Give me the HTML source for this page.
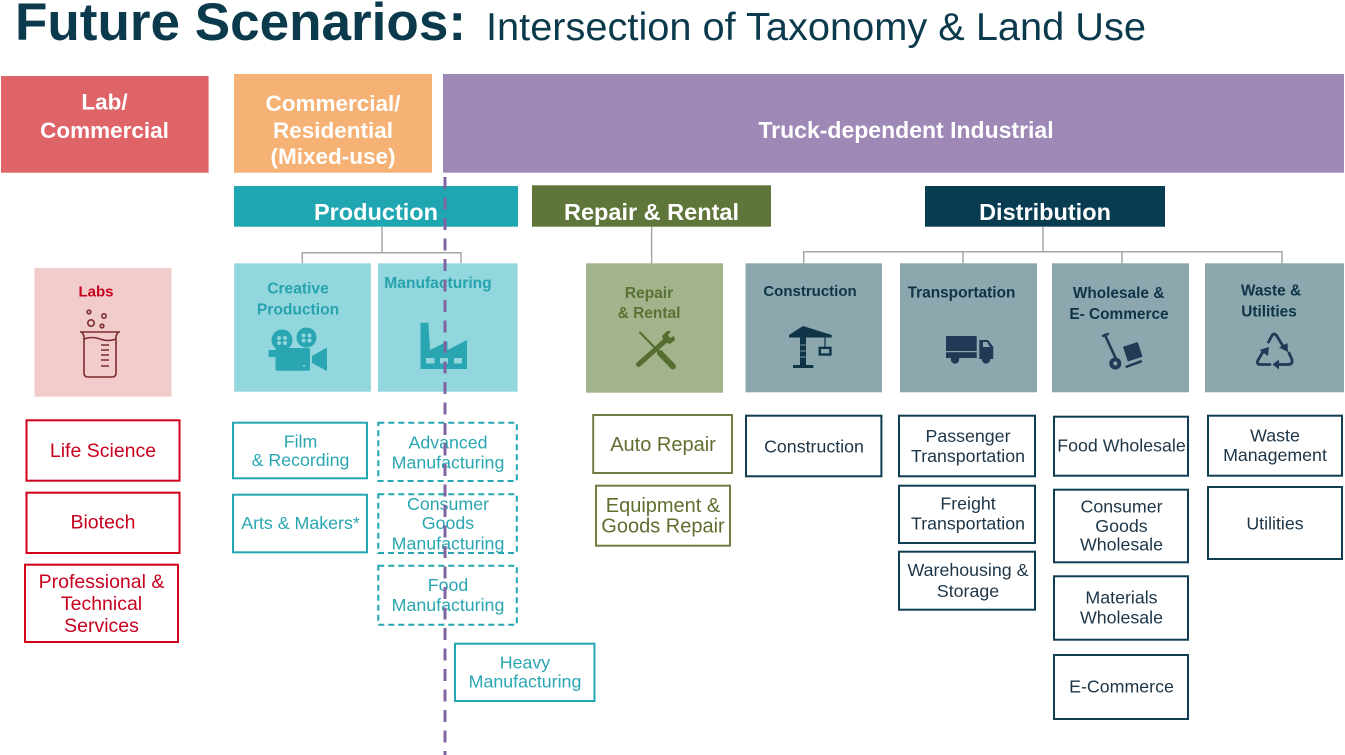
<!DOCTYPE html>
<html>
<head>
<meta charset="utf-8">
<style>
html,body{margin:0;padding:0;background:#fff;}
svg{display:block;}
text{font-family:"Liberation Sans",Arial,sans-serif;}
</style>
</head>
<body>
<svg width="1345" height="755" viewBox="0 0 1345 755" xmlns="http://www.w3.org/2000/svg">
  <!-- Title -->
  <text x="15" y="40" font-size="53" font-weight="bold" fill="#0b3a4c" textLength="451" lengthAdjust="spacingAndGlyphs">Future Scenarios:</text>
  <text x="486" y="40" font-size="39" fill="#0b3a4c" textLength="660" lengthAdjust="spacingAndGlyphs">Intersection of Taxonomy &amp; Land Use</text>

  <!-- Top land-use boxes -->
  <rect x="1" y="76" width="207.6" height="96.7" fill="#df6468"/>
  <rect x="234" y="74" width="198" height="98.7" fill="#f5b274"/>
  <rect x="443" y="74" width="901" height="98.7" fill="#9e88b6"/>
  <g font-weight="bold" fill="#fff" text-anchor="middle" font-size="22.5">
    <text x="104.5" y="109.5">Lab/</text>
    <text x="104.5" y="138">Commercial</text>
    <text x="333" y="111">Commercial/</text>
    <text x="333" y="138">Residential</text>
    <text x="333" y="164">(Mixed-use)</text>
    <text x="906" y="138" font-size="23">Truck-dependent Industrial</text>
  </g>

  <!-- Category bars -->
  <rect x="234" y="186" width="284" height="40.7" fill="#1fa6b1"/>
  <rect x="532" y="185.3" width="239" height="41.4" fill="#5f763a"/>
  <rect x="925" y="186" width="240" height="40.7" fill="#073c51"/>
  <g font-weight="bold" fill="#fff" text-anchor="middle" font-size="23.5">
    <text x="376" y="220">Production</text>
    <text x="651.5" y="220">Repair &amp; Rental</text>
    <text x="1045" y="220">Distribution</text>
  </g>

  <!-- Connectors -->
  <g stroke="#a6a6a6" stroke-width="1.5" fill="none">
    <path d="M382 226.7 V252.7 M302.3 263.3 V252.7 H461 V263.3"/>
    <path d="M651.6 226.7 V263.3"/>
    <path d="M1043 226.7 V251.7 M803.7 263.3 V251.7 H1282 V263.3 M963 251.7 V263.3 M1122 251.7 V263.3"/>
  </g>

  <!-- Sub boxes -->
  <rect x="34.4" y="268" width="137.1" height="128.7" fill="#f2cccb"/>
  <rect x="234.2" y="263.3" width="136.7" height="128.4" fill="#92d7de"/>
  <rect x="378" y="263.3" width="139.6" height="128.4" fill="#92d7de"/>
  <rect x="586" y="263.3" width="137" height="129.4" fill="#a3b38b"/>
  <rect x="745.5" y="263.3" width="136.5" height="129" fill="#8ca7ae"/>
  <rect x="900" y="263.3" width="137" height="129" fill="#8ca7ae"/>
  <rect x="1052" y="263.3" width="137" height="129" fill="#8ca7ae"/>
  <rect x="1205" y="263.3" width="139" height="129" fill="#8ca7ae"/>

  <!-- Sub box titles -->
  <g font-weight="bold" text-anchor="middle">
    <text x="96" y="296.7" font-size="15" fill="#c8001e">Labs</text>
    <text x="298" y="293.5" font-size="15.6" fill="#27a3ae">Creative</text>
    <text x="298" y="314.5" font-size="15.6" fill="#27a3ae">Production</text>
    <text x="438" y="288" font-size="15.6" fill="#27a3ae">Manufacturing</text>
    <text x="649" y="298" font-size="15.5" fill="#5a7233">Repair</text>
    <text x="649" y="318" font-size="15.5" fill="#5a7233">&amp; Rental</text>
    <text x="810" y="296" font-size="15" fill="#0f3347">Construction</text>
    <text x="961.5" y="297.3" font-size="15.4" fill="#0f3347">Transportation</text>
    <text x="1118.6" y="298" font-size="15.4" fill="#0f3347">Wholesale &amp;</text>
    <text x="1119" y="319" font-size="15.4" fill="#0f3347">E- Commerce</text>
    <text x="1271" y="295.6" font-size="15.4" fill="#0f3347">Waste &amp;</text>
    <text x="1269" y="316.3" font-size="15.4" fill="#0f3347">Utilities</text>
  </g>

  <!-- Icons -->
  <!-- Beaker -->
  <g stroke="#7c2d2d" stroke-width="1.6" fill="none">
    <circle cx="89" cy="312" r="1.8"/>
    <circle cx="104" cy="316" r="2.2"/>
    <circle cx="91" cy="323" r="3.2"/>
    <circle cx="102" cy="326" r="1.8"/>
    <path d="M80 332 H120 M82 332 L84 336 V373 Q84 377 88 377 H112 Q116 377 116 373 V336 L118 332"/>
    <path d="M84 339 Q92 336 100 339 T116 339"/>
    <path d="M101 345 H109 M101 350 H109 M101 355 H109 M101 360 H109 M101 366 H109"/>
  </g>
  <!-- Movie camera -->
  <g fill="#29a6b2">
    <circle cx="282" cy="340" r="10.5"/>
    <circle cx="306.5" cy="337.5" r="10"/>
    <rect x="275.5" y="348" width="34.5" height="22.7" rx="2"/>
    <polygon points="312,356 327,347.5 327,371 312,363"/>
    <rect x="268.6" y="350" width="8" height="7"/>
  </g>
  <g fill="#92d7de">
    <circle cx="279" cy="338" r="2"/><circle cx="285" cy="338" r="2"/><circle cx="279" cy="343" r="2"/><circle cx="285" cy="343" r="2"/>
    <circle cx="303.5" cy="335.5" r="2"/><circle cx="309.5" cy="335.5" r="2"/><circle cx="303.5" cy="340.5" r="2"/><circle cx="309.5" cy="340.5" r="2"/>
    <circle cx="304" cy="366" r="1"/>
  </g>
  <!-- Factory -->
  <path d="M420.5 369 V322.7 H428.4 L430 350 L447.5 341.5 V350 L467 340 V369 Z" fill="#29a6b2"/>
  <g fill="#92d7de">
    <rect x="426" y="358" width="8.5" height="5.5"/>
    <rect x="440" y="358" width="8" height="5.5"/>
    <rect x="454" y="358" width="8" height="5.5"/>
  </g>
  <!-- Tools -->
  <g stroke="#566d30" stroke-linecap="round" fill="none">
    <path d="M640 332.5 L659 352" stroke-width="2"/>
    <path d="M660 353 L673 366.5" stroke-width="6"/>
    <path d="M638.5 364.5 L666 340" stroke-width="5"/>
  </g>
  <path d="M664 342 L662 336 L667 331 L671 331 L668 335 L670 338 L674 336 L675 340 L670 344 Z" fill="#566d30"/>
  <!-- Crane -->
  <g fill="#0f3347">
    <rect x="800" y="328" width="6" height="38"/>
    <rect x="793" y="365" width="20.3" height="3"/>
    <polygon points="789,335 803,326 831.7,335 831.7,337.5 789,337.5"/>
    <rect x="818.6" y="346.7" width="13" height="9"/>
  </g>
  <rect x="821" y="349" width="8.2" height="4.4" fill="#8ca7ae"/>
  <path d="M825 337 V347" stroke="#0f3347" stroke-width="1.2"/>
  <g stroke="#8ca7ae" stroke-width="1"><path d="M800.5 345 H805.5 M800.5 351 H805.5 M800.5 357 H805.5"/></g>
  <!-- Truck -->
  <g fill="#213a55">
    <rect x="946" y="336" width="30.7" height="22"/>
    <path d="M979.3 340 H988 L993.3 347 V359 H979.3 Z"/>
    <circle cx="955" cy="359.5" r="4.2"/>
    <circle cx="986" cy="359.5" r="4.2"/>
  </g>
  <rect x="946" y="351" width="30.7" height="1.2" fill="#8ca7ae"/>
  <path d="M983 342 H987 L990 347 H983 Z" fill="#8ca7ae"/>
  <!-- Dolly -->
  <g stroke="#213a55" stroke-linecap="round" fill="none">
    <path d="M1105 335 L1116 359" stroke-width="2.6"/>
    <path d="M1103 336 L1108 334" stroke-width="2.4"/>
    <path d="M1126.7 366.7 L1140.7 361.5" stroke-width="2.6"/>
  </g>
  <circle cx="1115.3" cy="363.5" r="6" fill="#213a55"/>
  <circle cx="1115.3" cy="363.5" r="2" fill="#8ca7ae"/>
  <rect x="1125" y="344" width="15.5" height="15.5" fill="#213a55" transform="rotate(-18 1132.7 351.7)"/>
  <!-- Recycle -->
  <g stroke="#213a55" stroke-width="2.8" stroke-linecap="round" stroke-linejoin="round" fill="none">
    <path d="M1270 364.5 H1259.5 Q1256.5 364 1257.8 360.5 L1264 350"/>
    <path d="M1268.5 342 L1272 335.5 Q1274 332.5 1276.5 335.5 L1283 346"/>
    <path d="M1289 353 L1292 359.5 Q1293 364.5 1288 364.5 H1278"/>
  </g>
  <g fill="#213a55">
    <polygon points="1259.5,350 1269,347 1268,356"/>
    <polygon points="1279,347.5 1287.5,343 1288,352"/>
    <polygon points="1279,359.5 1279,369.5 1272.5,364.5"/>
  </g>

  <!-- Bottom boxes: red -->
  <g fill="none" stroke="#d0021b" stroke-width="2">
    <rect x="26.5" y="420.3" width="153" height="60.4"/>
    <rect x="26.5" y="492.7" width="153" height="60.3"/>
    <rect x="25" y="564.7" width="153" height="77.3"/>
  </g>
  <g fill="#c8001e" font-size="19.5" text-anchor="middle">
    <text x="103" y="457">Life Science</text>
    <text x="103" y="528.3">Biotech</text>
    <text x="101.5" y="588">Professional &amp;</text>
    <text x="101.5" y="610">Technical</text>
    <text x="101.5" y="632">Services</text>
  </g>

  <!-- Teal solid -->
  <g fill="none" stroke="#22a7b3" stroke-width="2">
    <rect x="233" y="422.7" width="134" height="55.6"/>
    <rect x="233" y="494.7" width="134" height="57.6"/>
    <rect x="455" y="643.7" width="139.5" height="57.3"/>
  </g>
  <g fill="none" stroke="#22a7b3" stroke-width="2" stroke-dasharray="6 4">
    <rect x="378.3" y="422.7" width="138.5" height="58.3"/>
    <rect x="378.3" y="494.3" width="138.5" height="58.7"/>
    <rect x="378.3" y="565.7" width="138.5" height="59"/>
  </g>
  <g fill="#2aa6b2" font-size="17.8" text-anchor="middle">
    <text x="300.5" y="447.3">Film</text>
    <text x="300.5" y="466">&amp; Recording</text>
    <text x="300.5" y="529">Arts &amp; Makers*</text>
    <text x="448" y="448.3">Advanced</text>
    <text x="448" y="468.3">Manufacturing</text>
    <text x="448" y="510">Consumer</text>
    <text x="448" y="529">Goods</text>
    <text x="448" y="549.3">Manufacturing</text>
    <text x="448" y="591">Food</text>
    <text x="448" y="611">Manufacturing</text>
    <text x="525" y="668.3">Heavy</text>
    <text x="525" y="687.7">Manufacturing</text>
  </g>

  <!-- Olive -->
  <g fill="none" stroke="#6e7f45" stroke-width="2">
    <rect x="593.2" y="415" width="138.8" height="58"/>
    <rect x="596" y="485.7" width="134" height="60"/>
  </g>
  <g fill="#5f6f30" font-size="20" text-anchor="middle">
    <text x="663" y="451">Auto Repair</text>
    <text x="663" y="512">Equipment &amp;</text>
    <text x="663" y="532.5">Goods Repair</text>
  </g>

  <!-- Navy -->
  <g fill="none" stroke="#0f3d52" stroke-width="2">
    <rect x="746" y="415.7" width="135.4" height="60.6"/>
    <rect x="899" y="415.7" width="136" height="60.6"/>
    <rect x="899" y="485.7" width="136" height="57.3"/>
    <rect x="899" y="551.7" width="136" height="58"/>
    <rect x="1054" y="416.7" width="134" height="59"/>
    <rect x="1054" y="489.7" width="134" height="72.6"/>
    <rect x="1054" y="576.3" width="134" height="63.4"/>
    <rect x="1054" y="655" width="134" height="64"/>
    <rect x="1208" y="415.7" width="134" height="60"/>
    <rect x="1208" y="487" width="134" height="72"/>
  </g>
  <g fill="#1d3547" font-size="17.8" text-anchor="middle">
    <text x="814" y="452.3">Construction</text>
    <text x="968" y="442">Passenger</text>
    <text x="968" y="462">Transportation</text>
    <text x="968" y="509.4">Freight</text>
    <text x="968" y="529.4">Transportation</text>
    <text x="968" y="576">Warehousing &amp;</text>
    <text x="968" y="597">Storage</text>
    <text x="1121.5" y="451.4">Food Wholesale</text>
    <text x="1121.5" y="512.7">Consumer</text>
    <text x="1121.5" y="532">Goods</text>
    <text x="1121.5" y="550.4">Wholesale</text>
    <text x="1121.5" y="603.7">Materials</text>
    <text x="1121.5" y="623.7">Wholesale</text>
    <text x="1121.5" y="692.7">E-Commerce</text>
    <text x="1275" y="441.7">Waste</text>
    <text x="1275" y="461">Management</text>
    <text x="1275" y="529.4">Utilities</text>
  </g>

  <!-- Purple dashed divider -->
  <path d="M445 177 V755" stroke="#8064a2" stroke-width="3" stroke-dasharray="12 8.5"/>
</svg>
</body>
</html>
